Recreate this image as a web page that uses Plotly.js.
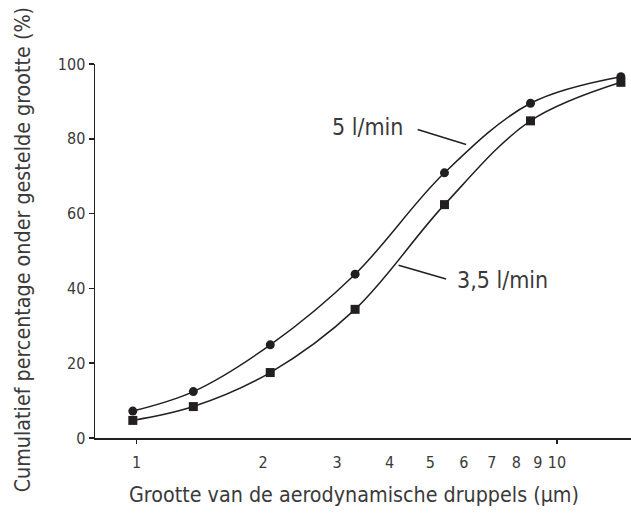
<!DOCTYPE html>
<html>
<head>
<meta charset="utf-8">
<script src="https://cdn.plot.ly/plotly-3.0.1.min.js"></script>
<style>html,body{margin:0;padding:0;background:#fff;}#chart{width:631px;height:522px;}</style>
</head>
<body>
<div id="chart"></div>
<script>
// Data
const sizes = [0.98, 1.365, 2.08, 3.31, 5.40, 8.65, 14.19];          // µm
const flow5 = [7.2, 12.4, 24.9, 43.8, 70.9, 89.5, 96.6];             // 5 l/min (%)
const flow35 = [4.7, 8.4, 17.5, 34.4, 62.4, 84.8, 95.1];             // 3,5 l/min (%)
const xTickVals = [1, 2, 3, 4, 5, 6, 7, 8, 9, 10];
const xTickText = ['1', '2', '3', '4', '5', '6', '7', '8', '9', '10'];
const xMajorTicks = [1, 10];
const yTickVals = [0, 20, 40, 60, 80, 100];
const seriesNames = ['5 l/min', '3,5 l/min'];
const xTitle = 'Grootte van de aerodynamische druppels (µm)';
const yTitle = 'Cumulatief percentage onder gestelde grootte (%)';
// leader line tips on the curves, and label centres
const leaderTips = [[6.08, 78.5], [4.20, 46.2]];
const labelPos = [[3.55, 83.1], [7.42, 42.2]];

const FONT = '"DejaVu Sans Condensed", "Liberation Sans Narrow", sans-serif';
const INK = '#231f20';
const TXT = '#3a3a3a';

const traces = [
  {x: sizes, y: flow5, name: seriesNames[0], mode: 'lines+markers',
   line: {shape: 'spline', smoothing: 1, color: INK, width: 1.5},
   marker: {symbol: 'circle', size: 9, color: INK}},
  {x: sizes, y: flow35, name: seriesNames[1], mode: 'lines+markers',
   line: {shape: 'spline', smoothing: 1, color: INK, width: 1.5},
   marker: {symbol: 'square', size: 9, color: INK}},
  // invisible trace carrying the secondary axis with the two tick marks
  {x: xMajorTicks, y: [0, 0], xaxis: 'x2', mode: 'markers',
   marker: {opacity: 0}, hoverinfo: 'skip', showlegend: false}
];

const xRange = [-0.0987, 1.176];

const layout = {
  width: 631, height: 522,
  margin: {l: 95, r: 0, t: 64, b: 84},
  paper_bgcolor: '#fff', plot_bgcolor: '#fff',
  showlegend: false,
  font: {family: FONT, color: TXT, size: 16},
  xaxis: {
    type: 'log', range: xRange, tickvals: xTickVals, ticktext: xTickText,
    ticks: 'outside', ticklen: 9, tickcolor: 'rgba(0,0,0,0)',
    showline: true, linecolor: INK, linewidth: 1.5, showgrid: false, zeroline: false,
    tickfont: {size: 16, color: TXT}
  },
  xaxis2: {
    type: 'log', range: xRange, overlaying: 'x', anchor: 'y',
    tickvals: xMajorTicks, showticklabels: false, ticks: 'outside', ticklen: 5,
    tickcolor: INK, tickwidth: 1.5, showline: false, showgrid: false, zeroline: false
  },
  yaxis: {
    range: [0, 100], tickvals: yTickVals, ticks: 'outside', ticklen: 5,
    tickcolor: INK, tickwidth: 1.5, showline: true, linecolor: INK, linewidth: 1.5,
    showgrid: false, zeroline: false, tickfont: {size: 16, color: TXT}
  },
  annotations: [
    {x: 0.483, y: -0.152, xref: 'paper', yref: 'paper', xanchor: 'center', yanchor: 'middle',
     text: xTitle, showarrow: false, font: {size: 21.3, color: TXT}},
    {x: -0.1353, y: 0.503, xref: 'paper', yref: 'paper', xanchor: 'center', yanchor: 'middle',
     text: yTitle, textangle: -90, showarrow: false, font: {size: 21.3, color: TXT}},
    {x: Math.log10(labelPos[0][0]), y: labelPos[0][1], xref: 'x', yref: 'y',
     text: seriesNames[0], showarrow: false, font: {size: 23, color: TXT}},
    {x: Math.log10(labelPos[1][0]), y: labelPos[1][1], xref: 'x', yref: 'y',
     text: seriesNames[1], showarrow: false, font: {size: 23, color: TXT}},
    {x: Math.log10(leaderTips[0][0]), y: leaderTips[0][1], xref: 'x', yref: 'y',
     text: ' ', font: {size: 1}, borderpad: 0, showarrow: true, arrowhead: 0,
     arrowwidth: 1.5, arrowcolor: INK, ax: -49, ay: -15, standoff: 0},
    {x: Math.log10(leaderTips[1][0]), y: leaderTips[1][1], xref: 'x', yref: 'y',
     text: ' ', font: {size: 1}, borderpad: 0, showarrow: true, arrowhead: 0,
     arrowwidth: 1.5, arrowcolor: INK, ax: 48, ay: 14, standoff: 0}
  ]
};

Plotly.newPlot('chart', traces, layout, {displayModeBar: false, staticPlot: true});
</script>
</body>
</html>
